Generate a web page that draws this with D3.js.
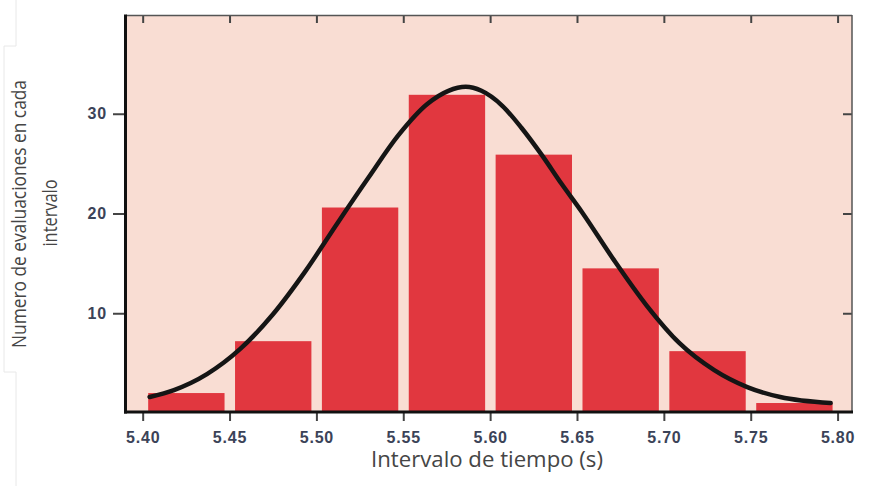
<!DOCTYPE html>
<html>
<head>
<meta charset="utf-8">
<script src="https://cdn.jsdelivr.net/npm/d3@7"></script>
<style>
  body { margin: 0; background: #fff; }
  .tick-label { font-family: 'Liberation Sans', Arial, sans-serif; font-weight: bold; font-size: 16px; letter-spacing: 0.8px; fill: #3b4358; }
  .title { font-family: 'Open Sans', sans-serif; fill: #454545; }
</style>
</head>
<body>
<div id="chart"></div>
<script>
// histogram bins (lower edge of each interval) and counts
const BIN_STARTS = [5.40, 5.45, 5.50, 5.55, 5.60, 5.65, 5.70, 5.75];
const BIN_WIDTH = 0.05;
const COUNTS = [2.0, 7.2, 20.6, 31.9, 25.9, 14.5, 6.2, 1.0];

// fitted curve, points
const CURVE_X = [5.404, 5.418, 5.437, 5.456, 5.475, 5.494, 5.512, 5.530, 5.547, 5.564, 5.576, 5.586, 5.595,
  5.607, 5.618, 5.630, 5.641, 5.653, 5.671, 5.690, 5.709, 5.729, 5.748, 5.767, 5.796];
const CURVE_Y = [1.6, 2.3, 3.9, 6.4, 9.9, 14.3, 19.0, 23.6, 27.8, 31.0, 32.3, 32.7, 32.3,
  30.8, 28.6, 25.8, 23.0, 20.1, 15.4, 10.8, 7.0, 4.3, 2.6, 1.6, 1.0];

const X_TICKS = [5.40, 5.45, 5.50, 5.55, 5.60, 5.65, 5.70, 5.75, 5.80];
const X_TICK_LABELS = ['5.40', '5.45', '5.50', '5.55', '5.60', '5.65', '5.70', '5.75', '5.80'];
const Y_TICKS = [10, 20, 30];
const Y_TICK_LABELS = ['10', '20', '30'];
const X_TITLE = 'Intervalo de tiempo (s)';
const Y_TITLE = ['Numero de evaluaciones en cada', 'intervalo'];

const w = 885, h = 486;
const pLeft = 126, pRight = 852, pTop = 15, pBottom = 412;

const svg = d3.select('#chart').append('svg')
  .attr('width', w).attr('height', h);

// faint outline of the pasted label box
svg.append('path')
  .attr('d', 'M16,0V46H4V372H16V486')
  .attr('fill', 'none').attr('stroke', '#e8e8e8').attr('stroke-width', 1);

const x = d3.scaleLinear().domain([5.3904, 5.8083]).range([pLeft, pRight]);
const y = d3.scaleLinear().domain([0, 40]).range([413, 14]);

svg.append('rect')
  .attr('x', pLeft).attr('y', pTop)
  .attr('width', pRight - pLeft).attr('height', pBottom - pTop)
  .attr('fill', '#f9ddd3');

const bins = BIN_STARTS.map((s, i) => ({ start: s, count: COUNTS[i] }));

svg.append('g').selectAll('rect')
  .data(bins)
  .join('rect')
  .attr('x', d => x(d.start) + 5.5)
  .attr('width', d => x(d.start + BIN_WIDTH) - x(d.start) - 10.5)
  .attr('y', d => y(d.count))
  .attr('height', d => y(0) - y(d.count))
  .attr('fill', '#e1373f');

const pts = CURVE_X.map((v, i) => [v, CURVE_Y[i]]);
const line = d3.line()
  .x(d => x(d[0])).y(d => y(d[1]))
  .curve(d3.curveMonotoneX);

svg.append('path')
  .attr('d', line(pts))
  .attr('fill', 'none')
  .attr('stroke', '#151515')
  .attr('stroke-width', 4.5)
  .attr('stroke-linecap', 'round');

// axes
const tickColor = '#444';

const xAxis = svg.append('g')
  .attr('transform', `translate(0,${pBottom})`)
  .call(d3.axisBottom(x).tickValues(X_TICKS).tickSize(9).tickSizeOuter(0)
    .tickPadding(11).tickFormat((d, i) => X_TICK_LABELS[i]));
xAxis.select('.domain').remove();
xAxis.selectAll('line').attr('stroke', tickColor).attr('stroke-width', 2);
xAxis.selectAll('text').attr('class', 'tick-label').attr('fill', null);

const xTop = svg.append('g')
  .attr('transform', `translate(0,${pTop})`)
  .call(d3.axisTop(x).tickValues(X_TICKS).tickSize(-8).tickFormat(''));
xTop.select('.domain').remove();
xTop.selectAll('line').attr('stroke', tickColor).attr('stroke-width', 2);

const yAxis = svg.append('g')
  .attr('transform', `translate(${pLeft},0)`)
  .call(d3.axisLeft(y).tickValues(Y_TICKS).tickSize(13).tickSizeOuter(0)
    .tickPadding(6).tickFormat((d, i) => Y_TICK_LABELS[i]));
yAxis.select('.domain').remove();
yAxis.selectAll('line').attr('stroke', tickColor).attr('stroke-width', 2);
yAxis.selectAll('text').attr('class', 'tick-label').attr('fill', null);

const yRight = svg.append('g')
  .attr('transform', `translate(${pRight},0)`)
  .call(d3.axisRight(y).tickValues(Y_TICKS).tickSize(-9).tickFormat(''));
yRight.select('.domain').remove();
yRight.selectAll('line').attr('stroke', tickColor).attr('stroke-width', 2);

// frame: heavy left and bottom, thin top and right
svg.append('line').attr('x1', pLeft).attr('x2', pRight).attr('y1', pTop + 0.5).attr('y2', pTop + 0.5)
  .attr('stroke', '#555').attr('stroke-width', 1.5);
svg.append('line').attr('x1', pRight).attr('x2', pRight).attr('y1', pTop).attr('y2', pBottom)
  .attr('stroke', '#555').attr('stroke-width', 1.5);
svg.append('line').attr('x1', pLeft - 0.5).attr('x2', pLeft - 0.5).attr('y1', pTop - 0.5).attr('y2', pBottom + 1.5)
  .attr('stroke', '#111').attr('stroke-width', 3);
svg.append('line').attr('x1', pLeft - 2).attr('x2', pRight + 1).attr('y1', pBottom).attr('y2', pBottom)
  .attr('stroke', '#111').attr('stroke-width', 3);

// titles
svg.append('text')
  .attr('class', 'title')
  .attr('x', 487).attr('y', 467)
  .attr('text-anchor', 'middle')
  .attr('font-size', '21px')
  .attr('textLength', 232).attr('lengthAdjust', 'spacingAndGlyphs')
  .text(X_TITLE);

svg.append('text')
  .attr('class', 'title')
  .attr('transform', 'translate(26,214) rotate(-90)')
  .attr('text-anchor', 'middle')
  .attr('font-size', '20px')
  .attr('textLength', 268).attr('lengthAdjust', 'spacingAndGlyphs')
  .text(Y_TITLE[0]);

svg.append('text')
  .attr('class', 'title')
  .attr('transform', 'translate(57,213) rotate(-90)')
  .attr('text-anchor', 'middle')
  .attr('font-size', '20px')
  .attr('textLength', 67).attr('lengthAdjust', 'spacingAndGlyphs')
  .text(Y_TITLE[1]);
</script>
</body>
</html>
